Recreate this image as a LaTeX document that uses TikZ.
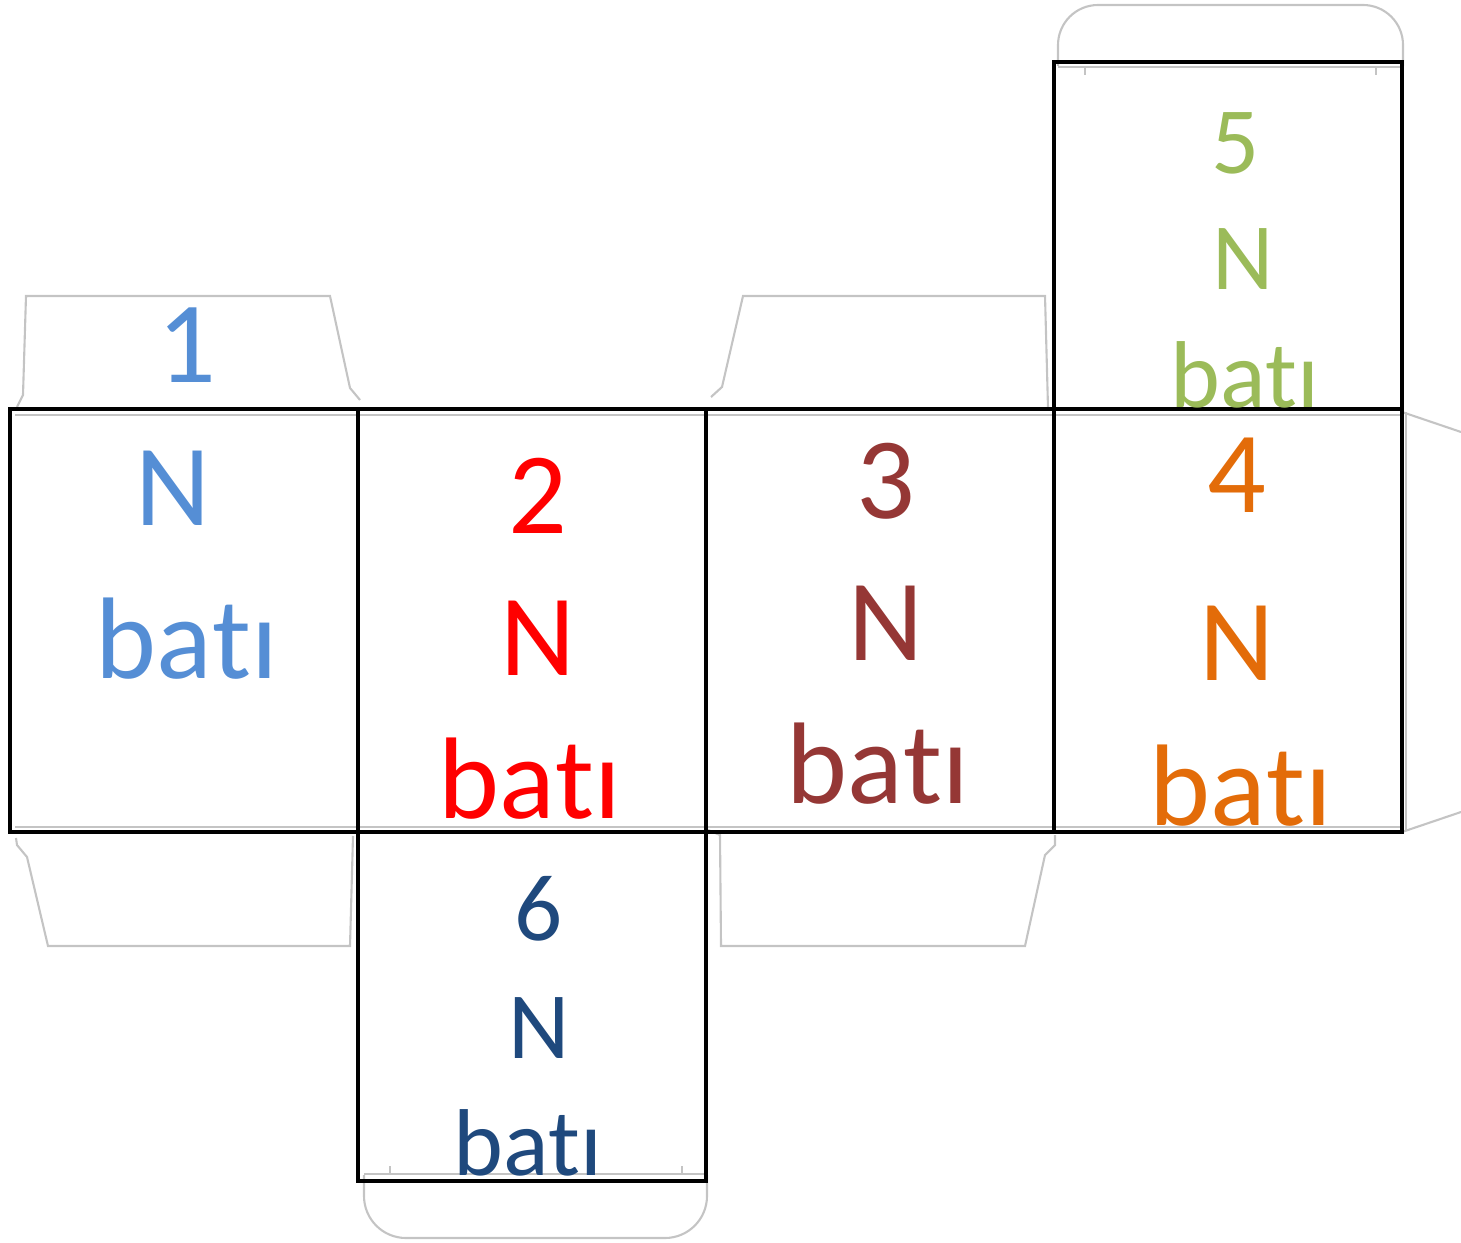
\documentclass[tikz,border=0pt]{standalone}
\usepackage{fontspec}
\setmainfont[Kerning=Off, Ligatures=NoCommon]{Carlito}
\definecolor{c1}{HTML}{558ED5}
\definecolor{c2}{HTML}{FF0000}
\definecolor{c3}{HTML}{953735}
\definecolor{c4}{HTML}{E36C09}
\definecolor{c5}{HTML}{9BBB59}
\definecolor{c6}{HTML}{1F497D}
\definecolor{flapgray}{HTML}{C4C4C4}
\tikzset{
	face/.style={draw=black, line width=1.1pt},
	flap/.style={draw=flapgray, line width=0.6pt},
	big/.style={anchor=base, inner sep=0pt, font=\fontsize{33}{33}\selectfont},
	small/.style={anchor=base, inner sep=0pt, font=\fontsize{27}{27}\selectfont}
}

\begin{document}
\begin{tikzpicture}[x=0.01cm, y=-0.01cm]

\useasboundingbox (0,0) rectangle (1461,1243);

% flaps of the template
\draw[flap] (17,407) -- (23,395) -- (26,296) -- (330,296) -- (350,388) -- (360,400);
\draw[flap] (711,397) -- (722,387) -- (743,296) -- (1045,296) -- (1048,408);
\draw[flap] (1058,66) -- (1058,45) arc[start angle=180, end angle=270, radius=40] -- (1363,5) arc[start angle=270, end angle=360, radius=40] -- (1403,66);
\draw[flap] (1058,67) -- (1400,67);
\draw[flap] (1085,67) -- (1085,75);
\draw[flap] (1376,67) -- (1376,75);
\draw[flap] (1402,412) -- (1461,432);
\draw[flap] (1402,832) -- (1461,812);
\draw[flap] (1406,412) -- (1406,830);
\draw[flap] (15,415) -- (1402,415);
\draw[flap] (15,827) -- (1402,827);
\draw[flap] (16,838) -- (17,845) -- (27,857) -- (48,946) -- (350,946) -- (353,836);
\draw[flap] (708,830) -- (720,835) -- (721,946) -- (1025,946) -- (1045,855) -- (1055,845) -- (1055,835);
\draw[flap] (364,1175) -- (364,1196) arc[start angle=180, end angle=90, radius=42] -- (665,1238) arc[start angle=90, end angle=0, radius=42] -- (707,1175);
\draw[flap] (364,1174) -- (704,1174);
\draw[flap] (390,1174) -- (390,1166);
\draw[flap] (682,1174) -- (682,1166);

% faces
\draw[face] (10,409) rectangle (358,832);
\draw[face] (358,409) rectangle (706,832);
\draw[face] (706,409) rectangle (1054,832);
\draw[face] (1054,409) rectangle (1402,832);
\draw[face] (1054,62) rectangle (1402,409);
\draw[face] (358,832) rectangle (706,1181);

% labels
\node[big, c1] (n1) at (187,383) {1};
\node[big, c1] (N1) at (173,525) {N};
\node[big, c1] (b1) at (187,678) {batı};

\node[big, c2] (n2) at (538,533) {2};
\node[big, c2] (N2) at (538,675) {N};
\node[big, c2] (b2) at (530,818) {batı};

\node[big, c3] (n3) at (886,518) {3};
\node[big, c3] (N3) at (886,660) {N};
\node[big, c3] (b3) at (878,803) {batı};

\node[big, c4] (n4) at (1237,512) {4};
\node[big, c4] (N4) at (1237,680) {N};
\node[big, c4] (b4) at (1241,825) {batı};

\node[small, c5] (n5) at (1236,174) {5};
\node[small, c5] (N5) at (1243,290) {N};
\node[small, c5] (b5) at (1245,407) {batı};

\node[small, c6] (n6) at (539,940) {6};
\node[small, c6] (N6) at (539,1058) {N};
\node[small, c6] (b6) at (528,1175) {batı};

\end{tikzpicture}
\end{document}
